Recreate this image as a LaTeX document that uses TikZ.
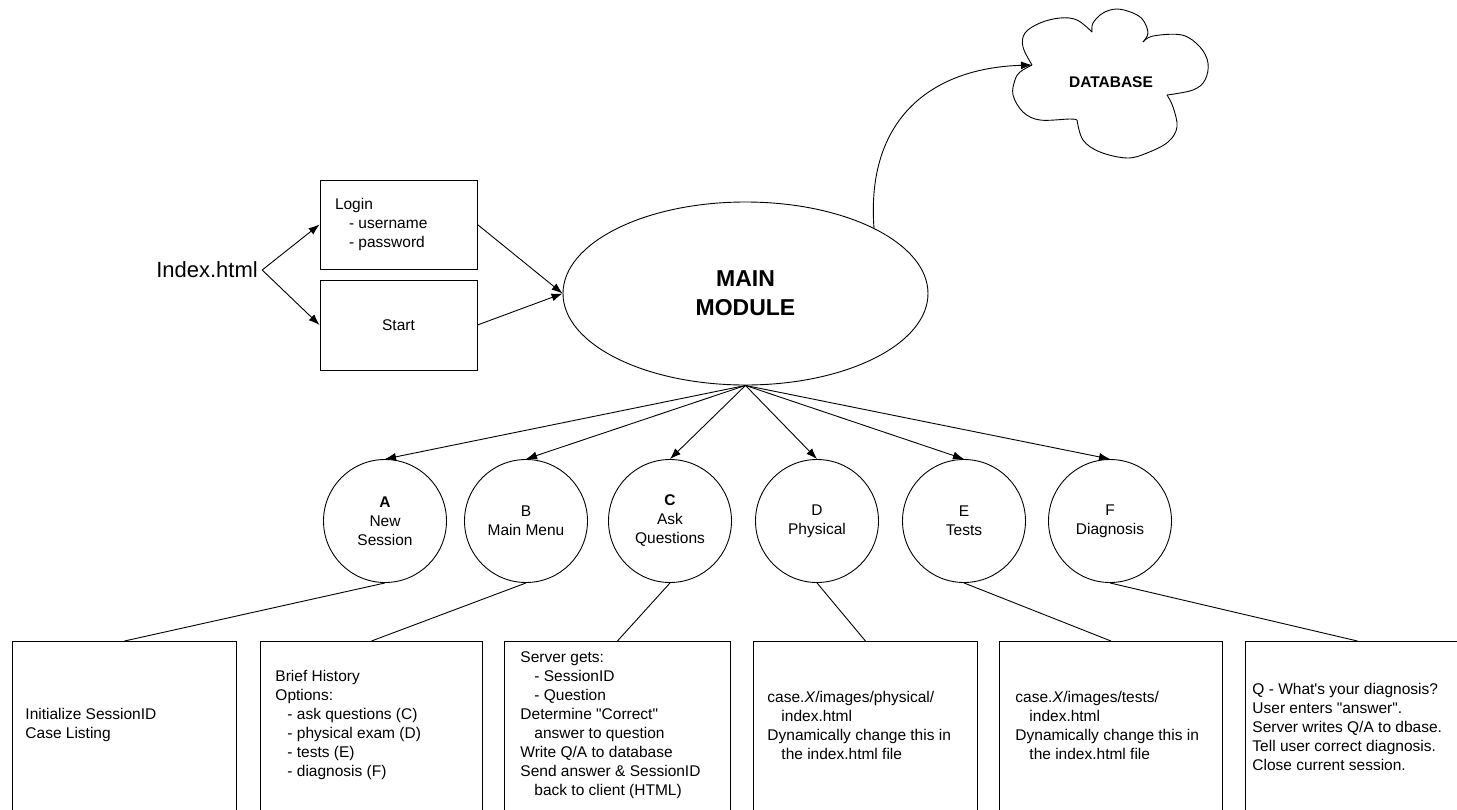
\documentclass[tikz,border=0pt]{standalone}
\usepackage{fontspec}
\setmainfont{Liberation Sans}
\usetikzlibrary{shapes.geometric,arrows.meta}
\begin{document}
\begin{tikzpicture}[x=1pt,y=-1pt,
  line width=0.9pt,
  every node/.style={font=\fontsize{15.5}{19}\selectfont},
  arr/.style={-{Latex[length=11pt,width=8pt]}},
  plain/.style={draw, rectangle, inner sep=0pt},
  bottombox/.style={draw, rectangle, inner sep=0pt, minimum height=180pt, anchor=north west},
  boxtext/.style={anchor=west, align=left, inner sep=0pt},
  stage/.style={draw, circle, minimum size=123pt, inner sep=0pt, align=center}
]
\useasboundingbox (0,0) rectangle (1457,809);
\fill[white] (0,0) rectangle (1457,809);
\clip (0,0) rectangle (1457,809);

% --- top left ---
\node[inner sep=4pt, font=\fontsize{22}{26}\selectfont] (idx) at (207,270) {Index.html};
\node[plain, minimum width=157pt, minimum height=89pt] (login) at (398.5,224.5) {};
\node[boxtext] (logintxt) at ([xshift=15pt]login.west) {Login\\\hspace*{14pt}- username\\\hspace*{14pt}- password};
\node[plain, minimum width=157pt, minimum height=90pt] (start) at (398.5,325) {Start};

% --- main module ---
\node[draw, ellipse, minimum width=365pt, minimum height=183pt, inner sep=0pt, align=center,
      font=\fontsize{23}{29}\selectfont\bfseries] (main) at (745.5,293.5) {MAIN\\MODULE};

\draw[arr] (idx.east) -- (login.west);
\draw[arr] (idx.east) -- (start.west);
\draw[arr] (login.east) -- (main.west);
\draw[arr] (start.east) -- (main.west);

% --- database cloud ---
\coordinate (dbin) at (1032,65);
\draw plot[smooth, tension=0.6] coordinates {(1032,65) (1023,47) (1025,33) (1040,23) (1060,18) (1077,20) (1092,32)};
\draw plot[smooth, tension=0.6] coordinates {(1092,32) (1093,23) (1103,13) (1117,9) (1133,13) (1143,20) (1148,33) (1143,42)};
\draw plot[smooth, tension=0.6] coordinates {(1143,42) (1153,36) (1182,35) (1200,47) (1208,63) (1205,80) (1193,90) (1167,95)};
\draw plot[smooth, tension=0.6] coordinates {(1167,95) (1173,107) (1177,127) (1168,142) (1147,153) (1127,158) (1100,152) (1083,140) (1077,120)};
\draw plot[smooth, tension=0.6] coordinates {(1077,120) (1070,119) (1040,120) (1023,112) (1013,95) (1015,80) (1020,72) (1032,65)};
\node[font=\fontsize{15.5}{19}\selectfont\bfseries] (db) at (1111,82) {DATABASE};
\draw[arr] (main.27) .. controls (866,120) and (930,68) .. (dbin);

% --- stage circles ---
\node[stage] (ca) at (385,521) {\textbf{A}\\New\\Session};
\node[stage] (cb) at (526,521) {B\\Main Menu};
\node[stage] (cc) at (670,521) {\textbf{C}\\Ask\\Questions};
\node[stage] (cd) at (817,521) {D\\Physical};
\node[stage] (ce) at (964,521) {E\\Tests};
\node[stage] (cf) at (1110,521) {F\\Diagnosis};

\foreach \c in {ca,cb,cc,cd,ce,cf}
  \draw[arr] (main.south) -- (\c.north);

% --- bottom boxes ---
\node[bottombox, minimum width=224pt] (b1) at (12,641) {};
\node[bottombox, minimum width=222pt] (b2) at (260,641) {};
\node[bottombox, minimum width=226pt] (b3) at (504,641) {};
\node[bottombox, minimum width=224pt] (b4) at (753,641) {};
\node[bottombox, minimum width=223pt] (b5) at (999,641) {};
\node[bottombox, minimum width=224pt] (b6) at (1245,641) {};

\node[boxtext] (t1) at ([xshift=13pt,yshift=-84pt]b1.north west) {Initialize SessionID\\Case Listing};
\node[boxtext] (t2) at ([xshift=15pt,yshift=-84pt]b2.north west) {Brief History\\Options:\\\hspace*{12pt}- ask questions (C)\\\hspace*{12pt}- physical exam (D)\\\hspace*{12pt}- tests (E)\\\hspace*{12pt}- diagnosis (F)};
\node[boxtext] (t3) at ([xshift=16pt,yshift=-84pt]b3.north west) {Server gets:\\\hspace*{14pt}- SessionID\\\hspace*{14pt}- Question\\Determine \textquotedbl Correct\textquotedbl\\\hspace*{14pt}answer to question\\Write Q/A to database\\Send answer \& SessionID\\\hspace*{14pt}back to client (HTML)};
\node[boxtext] (t4) at ([xshift=14pt,yshift=-84pt]b4.north west) {case.\textit{X}/images/physical/\\\hspace*{14pt}index.html\\Dynamically change this in\\\hspace*{14pt}the index.html file};
\node[boxtext] (t5) at ([xshift=16pt,yshift=-84pt]b5.north west) {case.\textit{X}/images/tests/\\\hspace*{14pt}index.html\\Dynamically change this in\\\hspace*{14pt}the index.html file};
\node[boxtext] (t6) at ([xshift=7pt,yshift=-86pt]b6.north west) {Q - What\textquotesingle s your diagnosis?\\User enters \textquotedbl answer\textquotedbl.\\Server writes Q/A to dbase.\\Tell user correct diagnosis.\\Close current session.};

\draw (ca.south) -- (b1.north);
\draw (cb.south) -- (b2.north);
\draw (cc.south) -- (b3.north);
\draw (cd.south) -- (b4.north);
\draw (ce.south) -- (b5.north);
\draw (cf.south) -- (b6.north);
\end{tikzpicture}
\end{document}
